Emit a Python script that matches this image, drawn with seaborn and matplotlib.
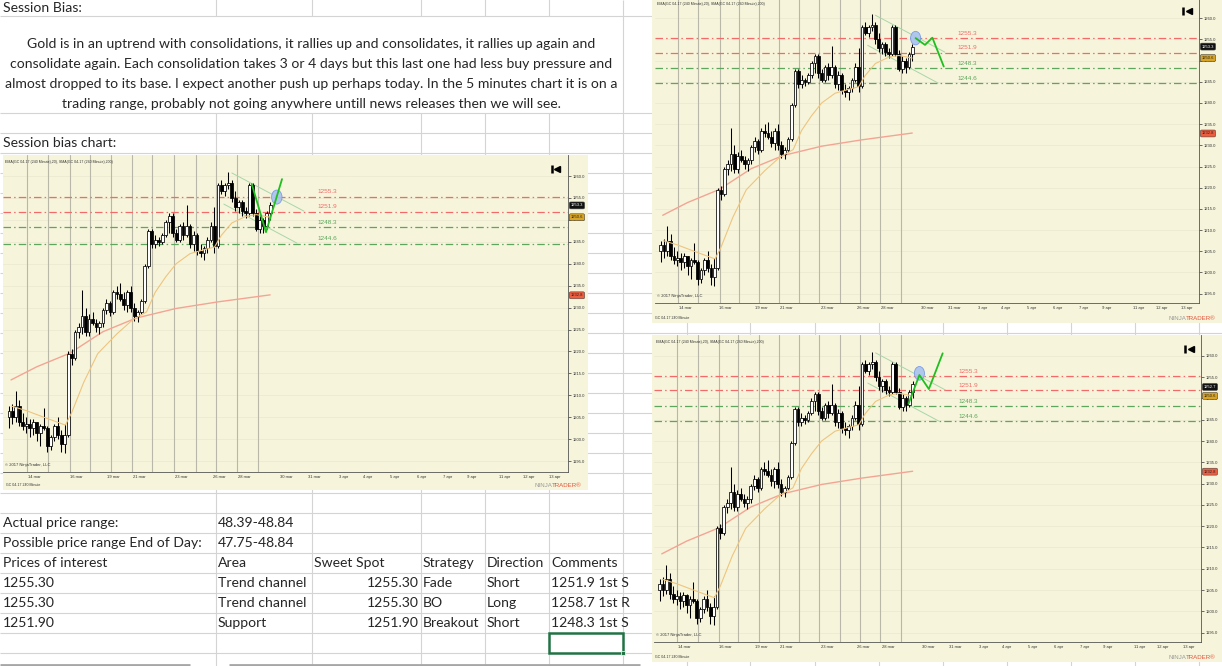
import numpy as np
import matplotlib
matplotlib.use("Agg")
import matplotlib.pyplot as plt
from matplotlib.patches import Rectangle, Ellipse
import seaborn as sns


# GC 04-17, 240 minute bars
opens = [1205.0, 1206.5, 1205.0, 1207.5, 1204.0, 1203.0, 1203.5, 1202.5, 1203.8, 1201.5,
         1203.0, 1202.5, 1198.5, 1200.5, 1203.0, 1201.0, 1199.0, 1201.0, 1219.5, 1218.5,
         1224.5, 1225.5, 1228.0, 1224.5, 1227.5, 1226.5, 1225.5, 1226.5, 1229.5, 1231.0,
         1229.0, 1233.5, 1233.0, 1232.0, 1230.5, 1233.5, 1230.0, 1228.0, 1229.0, 1231.5,
         1239.5, 1247.5, 1244.5, 1245.5, 1245.0, 1246.5, 1249.5, 1251.0, 1247.0, 1245.5,
         1248.5, 1246.5, 1248.5, 1244.5, 1246.5, 1243.0, 1242.5, 1243.5, 1245.5, 1248.5,
         1244.0, 1258.0, 1256.5, 1258.0, 1258.5, 1255.0, 1253.0, 1254.0, 1252.0, 1251.5,
         1258.0, 1251.5, 1248.0, 1250.0, 1248.5, 1251.5]
highs = [1207.5, 1208.0, 1211.0, 1209.0, 1206.0, 1205.0, 1204.5, 1204.5, 1204.0, 1203.5,
         1207.0, 1203.0, 1201.0, 1203.5, 1205.0, 1202.0, 1203.5, 1220.0, 1220.5, 1225.0,
         1226.5, 1234.0, 1230.0, 1228.5, 1229.0, 1227.5, 1227.0, 1230.0, 1232.0, 1231.5,
         1234.0, 1235.0, 1235.5, 1233.5, 1234.0, 1235.0, 1231.0, 1229.5, 1232.0, 1240.0,
         1248.0, 1248.0, 1246.5, 1246.0, 1247.0, 1250.0, 1251.5, 1251.5, 1248.0, 1249.0,
         1249.5, 1253.5, 1249.0, 1247.5, 1247.0, 1244.5, 1244.0, 1246.0, 1249.5, 1253.0,
         1258.5, 1259.0, 1258.5, 1261.0, 1259.0, 1256.5, 1254.5, 1254.5, 1253.0, 1258.5,
         1258.5, 1252.5, 1251.0, 1250.5, 1252.0, 1254.0]
lows = [1202.5, 1203.5, 1204.0, 1203.0, 1202.0, 1201.5, 1200.5, 1201.0, 1199.5, 1198.5,
        1202.0, 1197.0, 1197.5, 1199.5, 1200.0, 1197.0, 1196.8, 1200.5, 1217.0, 1218.0,
        1223.0, 1224.0, 1223.5, 1223.5, 1226.0, 1224.5, 1224.0, 1225.5, 1228.5, 1228.0,
        1228.5, 1232.0, 1231.5, 1229.5, 1229.0, 1229.0, 1227.0, 1226.8, 1228.5, 1231.0,
        1239.0, 1243.5, 1243.5, 1244.0, 1244.5, 1246.0, 1247.0, 1246.0, 1245.0, 1245.0,
        1245.5, 1246.0, 1243.5, 1243.0, 1242.0, 1241.5, 1240.8, 1242.5, 1245.0, 1242.5,
        1243.5, 1256.0, 1255.5, 1257.0, 1254.0, 1252.0, 1251.5, 1251.0, 1250.5, 1251.0,
        1251.0, 1247.5, 1247.0, 1247.0, 1248.0, 1250.0]
closes = [1206.5, 1205.0, 1207.5, 1204.0, 1203.0, 1203.5, 1202.5, 1203.8, 1201.5, 1203.0,
          1202.5, 1198.5, 1200.5, 1203.0, 1201.0, 1199.0, 1201.0, 1219.5, 1218.5, 1224.5,
          1225.5, 1228.0, 1224.5, 1227.5, 1226.5, 1225.5, 1226.5, 1229.5, 1231.0, 1229.0,
          1233.5, 1233.0, 1232.0, 1230.5, 1233.5, 1230.0, 1228.0, 1229.0, 1231.5, 1239.5,
          1247.5, 1244.5, 1245.5, 1245.0, 1246.5, 1249.5, 1251.0, 1247.0, 1245.5, 1248.5,
          1246.5, 1248.5, 1244.5, 1246.5, 1243.0, 1242.5, 1243.5, 1245.5, 1248.5, 1244.0,
          1258.0, 1256.5, 1258.0, 1258.5, 1255.0, 1253.0, 1254.0, 1252.0, 1251.5, 1258.0,
          1251.5, 1248.0, 1250.0, 1248.5, 1251.5, 1253.3]

# indicators (EMA 20 and SMA 200)
ema_x = [0.8, 5, 10, 16.2, 18, 21.5, 25.5, 31, 35.5, 39.5, 42, 45, 48, 52, 56, 59, 61, 64, 68, 71, 75]
ema_y = [1207.5, 1206.5, 1205.0, 1203.2, 1206.0, 1213.0, 1219.5, 1224.0, 1227.2, 1229.0, 1233.5,
         1237.0, 1240.0, 1242.3, 1243.2, 1243.8, 1246.5, 1249.3, 1250.8, 1251.2, 1250.6]
sma_x = [0.6, 8, 17.5, 27, 36.5, 48, 60, 75]
sma_y = [1213.5, 1216.5, 1219.6, 1224.5, 1227.6, 1229.8, 1231.3, 1232.9]

# drawn objects
level_values = [1255.3, 1251.9, 1248.3, 1244.6]
level_colors = ["#f26a6a", "#f26a6a", "#5ea55e", "#5ea55e"]
chan_up_x = [64, 84.7]
chan_up_y = [1260.7, 1252.0]
chan_lo_x = [61.7, 82.7]
chan_lo_y = [1253.6, 1244.7]

proj_left_x = [69.7, 73.8, 78.4]
proj_left_y = [1258.2, 1247.2, 1259.3]
proj_top_x = [76, 78.8, 81, 84.4]
proj_top_y = [1255.3, 1253.7, 1255.4, 1248.6]
proj_bot_x = [73.8, 77, 79.8, 83.9]
proj_bot_y = [1248.8, 1255.5, 1252.2, 1260.6]
circle_x = [76.9, 76, 77]
circle_y = [1255.2, 1255.3, 1255.9]
last_tags = [1253.3, 1253.3, 1252.7]
ema_tag = 1250.6
sma_tag = 1232.8

session_breaks = [5.2, 11.2, 17.6, 23.3, 29.4, 35.4, 41.2, 47.3, 53.6, 59.4, 65.4, 71.5]
date_pos = [7.2, 19.3, 30, 37.5, 49.6, 60.5, 67.7, 79.5, 87.6, 96, 102.9, 110.7,
            118.4, 126, 132.9, 142.4, 149.3, 156.8]
date_labels = ["14 mar", "16 mar", "19 mar", "21 mar", "23 mar", "26 mar", "28 mar",
               "30 mar", "31 mar", "3 apr", "4 apr", "5 apr", "6 apr", "7 apr",
               "9 apr", "11 apr", "12 apr", "13 apr"]
price_ticks = list(range(1195, 1261, 5))

# spreadsheet text
bias_lines = [
    "Gold is in an uptrend with consolidations, it rallies up and consolidates, it rallies up again and",
    "consolidate again. Each consolidation takes 3 or 4 days but this last one had less buy pressure and",
    "almost dropped to its base. I expect another push up perhaps today. In the 5 minutes chart it is on a",
    "trading range, probably not going anywhere untill news releases then we will see.",
]
table_rows = [
    ["Actual price range:", "48.39-48.84", "", "", "", ""],
    ["Possible price range End of Day:", "47.75-48.84", "", "", "", ""],
    ["Prices of interest", "Area", "Sweet Spot", "Strategy", "Direction", "Comments"],
    ["1255.30", "Trend channel", "1255.30", "Fade", "Short", "1251.9 1st S"],
    ["1255.30", "Trend channel", "1255.30", "BO", "Long", "1258.7 1st R"],
    ["1251.90", "Support", "1251.90", "Breakout", "Short", "1248.3 1st S"],
]


sns.set_style("white")
plt.rcParams["font.family"] = ["Lato", "DejaVu Sans"]

W, H = 1222, 666
fig = plt.figure(figsize=(W / 100, H / 100), dpi=100)
fig.patch.set_facecolor("white")

sheet = fig.add_axes([0, 0, 1, 1])
sheet.set_xlim(0, W)
sheet.set_ylim(H, 0)
sheet.axis("off")

grid_c = "#d4d4d4"
rows = [16, 113, 133] + list(range(153, 666, 20))
sheet.hlines(rows, 0, W, color=grid_c, lw=0.8, zorder=1)
for cx in [216, 312, 421, 485, 549]:
    sheet.vlines(cx, -5, 16, color=grid_c, lw=0.8, zorder=1)
    sheet.vlines(cx, 113, H, color=grid_c, lw=0.8, zorder=1)
sheet.vlines([623, 686.5, 750, 815, 879, 943, 1007, 1071, 1135, 1198.5], 0, H,
             color=grid_c, lw=0.8, zorder=1)

fs = 10.1
sheet.text(3, 8, "Session Bias:", fontsize=fs, va="center", ha="left")
for i, line in enumerate(bias_lines):
    sheet.text(311.5, 43.5 + 20 * i, line, fontsize=fs, va="center", ha="center")
sheet.text(3, 143, "Session bias chart:", fontsize=fs, va="center", ha="left")

col_x = [3, 218, 314, 423, 487, 551]
for r, row in enumerate(table_rows):
    y = 523 + 20 * r
    for c, val in enumerate(row):
        if not val:
            continue
        if c == 2 and r > 2:
            sheet.text(419, y, val, fontsize=fs, va="center", ha="right")
        else:
            sheet.text(col_x[c], y, val, fontsize=fs, va="center", ha="left")

sheet.add_patch(Rectangle((549, 633), 74, 20, fill=False, ec="#217346", lw=1.8, zorder=5))
sheet.add_patch(Rectangle((621, 651), 4, 4, fc="#217346", ec="white", lw=0.5, zorder=6))
sheet.hlines(664.5, 0, 190, color="#a6a6a6", lw=2, zorder=2)
sheet.hlines(664.5, 229, 640, color="#a6a6a6", lw=2, zorder=2)

cream = "#f6f5db"


def px_rect(x0, y0, x1, y1):
    return [x0 / W, 1 - y1 / H, (x1 - x0) / W, (y1 - y0) / H]


def draw_chart(plot_box, panel_box, ylim, px, py, cx, cy, last_tag):
    x0, y0, x1, y1 = panel_box
    sheet.add_patch(Rectangle((x0, y0), x1 - x0, y1 - y0, fc=cream, ec="none", zorder=3))

    ax = fig.add_axes(px_rect(*plot_box))
    ax.set_facecolor(cream)
    ax.set_xlim(-1.7, 160.5)
    ax.set_ylim(*ylim)

    for p in price_ticks:
        ax.axhline(p, color="#ecebd2", lw=0.6, zorder=0)
    for b in session_breaks:
        ax.axvline(b, color="#b8b7a8", lw=0.8, zorder=1)

    # candles
    idx = np.arange(len(closes))
    o = np.array(opens)
    c = np.array(closes)
    up = c >= o
    ax.vlines(idx, lows, highs, color="black", lw=0.75, zorder=3)
    ax.bar(idx[up], (c - o)[up], bottom=o[up], width=0.8,
           color="white", edgecolor="black", lw=0.55, zorder=4)
    ax.bar(idx[~up], (o - c)[~up], bottom=c[~up], width=0.8,
           color="black", edgecolor="black", lw=0.55, zorder=4)

    sns.lineplot(x=sma_x, y=sma_y, ax=ax, color="#f4a494", lw=1.0, zorder=2)
    sns.lineplot(x=ema_x, y=ema_y, ax=ax, color="#efc47e", lw=0.8, zorder=5)

    for v, col in zip(level_values, level_colors):
        ax.axhline(v, color=col, lw=0.9, ls=(0, (6, 2.5, 1.2, 2.5)), zorder=2)
        ax.text(88.5, v + 0.5, f"{v:.1f}", color=col, fontsize=4.6,
                family="Liberation Sans", va="bottom", ha="left")

    sns.lineplot(x=chan_up_x, y=chan_up_y, ax=ax, color="#a9d5a9", lw=0.7, zorder=2)
    sns.lineplot(x=chan_lo_x, y=chan_lo_y, ax=ax, color="#a9d5a9", lw=0.7, zorder=2)
    sns.lineplot(x=px, y=py, ax=ax, color="#1fbf1f", lw=1.3, zorder=7)
    ax.add_patch(Ellipse((cx, cy), 3.0, 3.2, fc="#a9c2ee", ec="#7396e6",
                         lw=0.6, alpha=0.9, zorder=6))

    # axes
    ax.yaxis.tick_right()
    ax.set_yticks(price_ticks)
    ax.set_yticklabels([f"{p:.1f}" for p in price_ticks])
    ax.set_xticks(date_pos)
    ax.set_xticklabels(date_labels)
    ax.tick_params(axis="y", labelsize=3, length=2, width=0.5, pad=1.5, colors="#333333")
    ax.tick_params(axis="x", labelsize=3, length=0, pad=2.5, colors="#333333")
    for lab in ax.get_xticklabels() + ax.get_yticklabels():
        lab.set_family("Liberation Sans")
    for side in ["left", "top"]:
        ax.spines[side].set_visible(False)
    for side in ["right", "bottom"]:
        ax.spines[side].set_color("#555555")
        ax.spines[side].set_linewidth(0.6)

    # price tags on the right axis
    for val, fc, tc in [(last_tag, "#111111", "white"), (ema_tag, "#d9a424", "#222222"),
                        (sma_tag, "#ef5d3f", "#222222")]:
        ax.annotate(f"{val:.1f}", xy=(1, val), xycoords=("axes fraction", "data"),
                    xytext=(2, 0), textcoords="offset points", fontsize=3,
                    family="Liberation Sans", color=tc, va="center", ha="left",
                    bbox=dict(boxstyle="round,pad=0.35", fc=fc, ec="#444444", lw=0.4),
                    annotation_clip=False, zorder=8)

    ax.text(0.004, 0.985, "EMA(GC 04-17 (240 Minute),20), SMA(GC 04-17 (240 Minute),200)",
            transform=ax.transAxes, fontsize=2.6, family="Liberation Sans",
            color="#333333", va="top", ha="left")
    ax.text(0.004, 0.015, "\u00a9 2017 NinjaTrader, LLC", transform=ax.transAxes,
            fontsize=3, family="Liberation Sans", color="#333333", va="bottom", ha="left")
    ax.plot([0.971], [0.955], marker="|", ms=6, mew=1.8, color="black",
            transform=ax.transAxes, clip_on=False)
    ax.plot([0.981], [0.955], marker="<", ms=4.2, color="black",
            transform=ax.transAxes, clip_on=False)

    # footer of the chart picture
    sheet.text(x0 + 3, y1 - 3, "GC 04-17 240 Minute", fontsize=2.6,
               family="Liberation Sans", color="#333333", va="bottom", ha="left", zorder=4)
    sheet.text(x1 - 36, y1 - 2, "NINJA", fontsize=4.4, family="Liberation Sans",
               color="#9a9a9a", va="bottom", ha="right", zorder=4)
    sheet.text(x1 - 36, y1 - 2, "TRADER\u00ae", fontsize=4.4, family="Liberation Sans",
               color="#e0523a", va="bottom", ha="left", zorder=4)
    return ax


draw_chart((3, 155, 568, 472), (3, 155, 588, 490), (1192.5, 1264.8),
           proj_left_x, proj_left_y, circle_x[0], circle_y[0], last_tags[0])
draw_chart((655, -3, 1199, 303), (652, -3, 1222, 323), (1192.8, 1265.0),
           proj_top_x, proj_top_y, circle_x[1], circle_y[1], last_tags[1])
draw_chart((654, 335, 1201, 642), (652, 335, 1222, 662), (1192.8, 1264.9),
           proj_bot_x, proj_bot_y, circle_x[2], circle_y[2], last_tags[2])

fig.savefig("out.png", dpi=100, facecolor="white")
